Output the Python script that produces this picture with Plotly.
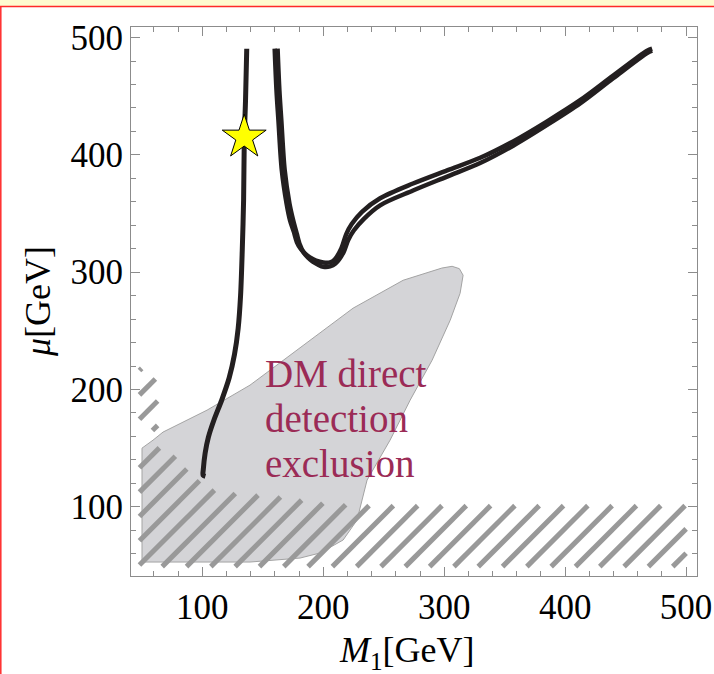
import numpy as np
import plotly.graph_objects as go

# ---- axes -------------------------------------------------------------
X_RANGE = [41, 509]
Y_RANGE = [41, 509]
MAJOR_TICKS = [100, 200, 300, 400, 500]

# ---- direct-detection excluded region (filled grey) -------------------
DD_M1 = [50.1, 50.1, 59.2, 67.5, 75.7, 98.1, 103.9, 139.4, 175.0, 197.3, 224.6,
         266.0, 298.0, 306.5, 312.5, 315.6, 313.1, 304.9, 290.0, 271.8, 255.2, 236.2,
         232.0, 227.9, 216.4, 197.3, 180.8, 139.4]
DD_MU = [52.9, 150.0, 156.8, 163.7, 167.9, 179.8, 182.4, 203.7, 231.0, 248.0, 269.3,
         293.1, 303.5, 305.0, 303.0, 297.4, 282.0, 259.0, 225.0, 190.9, 156.8, 122.8,
         105.7, 88.7, 71.7, 60.6, 56.3, 52.9]

# ---- hatched excluded regions -----------------------------------------
LEP_LOW_M1 = [48, 500, 500, 230, 200, 160, 130, 112, 100, 90, 80, 71, 60, 48]
LEP_LOW_MU = [49, 49, 101, 101, 103, 109, 111, 113, 120, 129, 140, 152, 149, 146]
LEP_UP_M1 = [48, 63, 63, 61, 57, 48]
LEP_UP_MU = [165, 165, 195, 210, 218, 218]

# ---- relic-density contour: low-M1 branch -----------------------------
LEFT_M1 = [136.7, 135.7, 134.7, 134.1, 133.0, 131.6, 129.6, 126.6, 122.2, 116.0,
           109.6, 105.0, 102.3, 100.8, 100.6, 102.5]
LEFT_MU = [490.5, 446.5, 415.2, 361.3, 318.7, 280.0, 252.0, 230.0, 210.0, 191.0,
           174.0, 159.4, 145.8, 132.0, 127.0, 126.0]

# ---- relic-density contour: high-M1 branch (two edges of the band) ----
RIGHT_A_M1 = [162.2, 163.7, 165.3, 168.1, 172.0, 175.1, 178.0, 180.6, 183.6, 187.2,
              191.0, 195.4, 200.0, 205.6, 210.0, 216.5, 220.6, 225.2, 233.6, 247.0,
              274.2, 302.4, 329.7, 357.0, 385.1, 412.4, 439.7, 467.8, 471.9]
RIGHT_A_MU = [490.5, 455.0, 429.4, 386.8, 358.7, 344.2, 333.0, 323.5, 317.0, 312.5,
              309.2, 306.6, 304.6, 304.9, 307.3, 316.5, 327.5, 335.5, 345.5, 357.0,
              369.6, 381.5, 393.0, 407.8, 425.5, 443.8, 465.3, 486.8, 488.8]
RIGHT_B_M1 = [159.8, 161.3, 162.9, 165.7, 169.6, 172.5, 175.6, 178.2, 181.4, 185.2,
              189.3, 194.0, 200.0, 205.6, 209.4, 215.0, 219.0, 223.5, 232.0, 247.0,
              274.2, 302.4, 329.7, 357.0, 385.1, 412.4, 439.7, 467.8, 471.9]
RIGHT_B_MU = [490.5, 455.0, 429.4, 386.8, 358.7, 344.2, 334.5, 325.5, 319.8, 315.6,
              312.3, 309.8, 308.2, 308.3, 310.7, 320.5, 332.5, 341.0, 351.5, 363.0,
              375.6, 386.8, 397.5, 411.5, 428.6, 446.6, 467.6, 488.8, 490.6]

# ---- benchmark point ---------------------------------------------------
STAR_M1 = [134.6]
STAR_MU = [415.0]

# ---- labels ------------------------------------------------------------
LABEL_LINES = ["DM direct", "detection", "exclusion"]
LABEL_M1 = 150.0
LABEL_MU = [213.5, 175.2, 137.0]
X_TITLE = "<i>M</i><sub>1</sub>[GeV]"
Y_TITLE = "<i>μ</i>[GeV]"

# ---- page geometry -----------------------------------------------------
W, H = 714, 674
ML, MR, MT, MB = 131, 17, 27, 98
PW, PH = W - ML - MR, H - MT - MB
SX = PW / (X_RANGE[1] - X_RANGE[0])
SY = PH / (Y_RANGE[1] - Y_RANGE[0])

INK = "#231f20"
FRAME = "#8c8c8c"
HATCH = "#999999"
SERIF = "Liberation Serif, Times New Roman, serif"


def hatch_segments(px, py, angle_deg, spacing_x, anchor_x, base_y):
    """Parallel hatch strokes clipped to a polygon (computed in screen units)."""
    poly = np.column_stack([(np.asarray(px, float) - X_RANGE[0]) * SX,
                            (np.asarray(py, float) - Y_RANGE[0]) * SY])
    th = np.radians(angle_deg)
    d = np.array([np.cos(th), np.sin(th)])
    xs, ys = [], []
    n = len(poly)
    for k in range(-40, 40):
        p0 = np.array([(anchor_x + k * spacing_x - X_RANGE[0]) * SX,
                       (base_y - Y_RANGE[0]) * SY])
        ts = []
        for i in range(n):
            a, b = poly[i], poly[(i + 1) % n]
            e = b - a
            den = d[0] * e[1] - d[1] * e[0]
            if abs(den) < 1e-12:
                continue
            w = a - p0
            t = (w[0] * e[1] - w[1] * e[0]) / den
            s = (w[0] * d[1] - w[1] * d[0]) / den
            if 0 <= s < 1:
                ts.append(t)
        ts.sort()
        for t0, t1 in zip(ts[0::2], ts[1::2]):
            for t in (t0, t1):
                q = p0 + t * d
                xs.append(q[0] / SX + X_RANGE[0])
                ys.append(q[1] / SY + Y_RANGE[0])
            xs.append(None)
            ys.append(None)
    return xs, ys


fig = go.Figure()

# grey excluded region
fig.add_trace(go.Scatter(
    x=DD_M1 + [DD_M1[0]], y=DD_MU + [DD_MU[0]], mode="lines", fill="toself",
    fillcolor="#d4d4d7", line=dict(color="#a3a3a3", width=1),
    hoverinfo="skip", showlegend=False))

# hatching
for hm1, hmu in ((LEP_LOW_M1, LEP_LOW_MU), (LEP_UP_M1, LEP_UP_MU)):
    hx, hy = hatch_segments(hm1, hmu, 45, 20.1, 187.4, 49)
    fig.add_trace(go.Scatter(
        x=hx, y=hy, mode="lines", line=dict(color=HATCH, width=5),
        hoverinfo="skip", showlegend=False))

# relic-density contours
fig.add_trace(go.Scatter(x=LEFT_M1, y=LEFT_MU, mode="lines",
                         line=dict(color=INK, width=5, shape="spline", smoothing=0.8),
                         showlegend=False))
for rm1, rmu in ((RIGHT_A_M1, RIGHT_A_MU), (RIGHT_B_M1, RIGHT_B_MU)):
    fig.add_trace(go.Scatter(x=rm1, y=rmu, mode="lines",
                             line=dict(color=INK, width=4.5, shape="spline", smoothing=0.9),
                             showlegend=False))

# benchmark point
fig.add_trace(go.Scatter(
    x=STAR_M1, y=STAR_MU, mode="markers",
    marker=dict(symbol="star", size=33, color="#ffff00",
                line=dict(color="black", width=1)),
    showlegend=False))

for txt, mu in zip(LABEL_LINES, LABEL_MU):
    fig.add_annotation(x=LABEL_M1, y=mu, text=txt, showarrow=False,
                       xanchor="left", yanchor="middle",
                       font=dict(family=SERIF, size=39, color="#9b2b56"))

axis_common = dict(
    showgrid=False, zeroline=False, showline=True, linecolor=FRAME, linewidth=1,
    mirror="allticks", ticks="inside", ticklen=9, tickcolor=FRAME, tickwidth=1,
    tickvals=MAJOR_TICKS, ticktext=[str(v) for v in MAJOR_TICKS],
    tickfont=dict(family=SERIF, size=35, color="black"),
    minor=dict(ticks="inside", ticklen=5, tickcolor=FRAME, dtick=20, tick0=0),
)
fig.update_xaxes(range=X_RANGE, **axis_common)
fig.update_yaxes(range=Y_RANGE, **axis_common)


def px2paper_x(p):
    return (p - ML) / PW


def py2paper_y(p):
    return (H - MB - p) / PH


# axis titles
fig.add_annotation(xref="paper", yref="paper", x=px2paper_x(407), y=py2paper_y(652),
                   text=X_TITLE, showarrow=False, xanchor="center", yanchor="middle",
                   font=dict(family=SERIF, size=36, color="black"))
fig.add_annotation(xref="paper", yref="paper", x=px2paper_x(38), y=py2paper_y(302),
                   text=Y_TITLE, showarrow=False, xanchor="center", yanchor="middle",
                   textangle=-90, font=dict(family=SERIF, size=36, color="black"))

# page border: pale strip along the top and thin red rules
fig.add_shape(type="rect", xref="paper", yref="paper",
              x0=px2paper_x(0), x1=px2paper_x(W), y0=py2paper_y(6), y1=py2paper_y(0),
              fillcolor="#fffbd0", line=dict(width=0), layer="below")
fig.add_shape(type="line", xref="paper", yref="paper",
              x0=px2paper_x(0), x1=px2paper_x(W), y0=py2paper_y(6.5), y1=py2paper_y(6.5),
              line=dict(color="#ff2a2a", width=1.5))
fig.add_shape(type="line", xref="paper", yref="paper",
              x0=px2paper_x(0.8), x1=px2paper_x(0.8), y0=py2paper_y(6.5), y1=py2paper_y(H),
              line=dict(color="#ff2a2a", width=1.5))

fig.update_layout(
    width=W, height=H, margin=dict(l=ML, r=MR, t=MT, b=MB, autoexpand=False),
    paper_bgcolor="white", plot_bgcolor="white",
)

fig.write_html("out.html")
